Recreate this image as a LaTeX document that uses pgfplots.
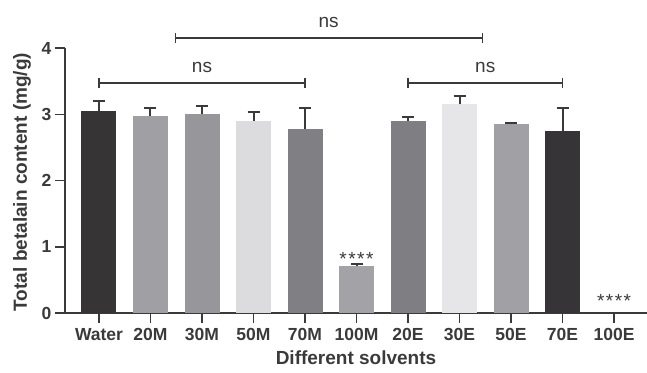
\documentclass[border=0pt]{standalone}
\usepackage{fontspec}
\setmainfont{Liberation Sans}
\usepackage{pgfplots}
\pgfplotsset{compat=1.18}
\definecolor{axc}{HTML}{3A3A3A}
\definecolor{c0}{HTML}{363435}
\definecolor{c1}{HTML}{A0A0A4}
\definecolor{c2}{HTML}{97979B}
\definecolor{c3}{HTML}{DCDCDE}
\definecolor{c4}{HTML}{808084}
\definecolor{c5}{HTML}{A3A3A7}
\definecolor{c6}{HTML}{7F7F83}
\definecolor{c7}{HTML}{E6E6E8}
\definecolor{c8}{HTML}{A1A1A5}
\definecolor{c9}{HTML}{363436}
\begin{document}
\begin{tikzpicture}[x=1pt,y=1pt]
\begin{axis}[
  at={(0,0)}, anchor=south west, scale only axis,
  width=582pt, height=265pt,
  xmin=-0.66, xmax=10.64, ymin=0, ymax=4,
  axis x line*=bottom, axis y line*=left,
  axis line style={axc, line width=1.5pt},
  ytick={0,1,2,3,4},
  xtick={0,...,10},
  xticklabels={Water,20M,30M,50M,70M,100M,20E,30E,50E,70E,100E},
  tick style={axc, line width=1.5pt},
  tick align=outside, major tick length=10pt,
  tick label style={font=\fontsize{17.5}{17.5}\selectfont\bfseries, text=axc},
  xticklabel style={yshift=-2pt},
  /pgf/number format/assume math mode=true,
  xlabel={Different solvents},
  ylabel={Total betalain content (mg/g)},
  label style={font=\fontsize{19}{19}\selectfont\bfseries, text=axc},
  xlabel style={at={(rel axis cs:0.5,0)}, anchor=center, yshift=-45pt},
  ylabel style={at={(rel axis cs:0,0.494)}, anchor=center, yshift=43pt},
  ybar, bar width=35pt, bar shift=0pt,
  clip=false,
  error bars/y dir=plus, error bars/y explicit,
  error bars/error bar style={axc, line width=2pt},
  error bars/error mark options={axc, line width=2pt, mark size=6pt, rotate=90},
]
\addplot[fill=c0, draw=none] coordinates {(0,3.05) +- (0,0.15)};
\addplot[fill=c1, draw=none] coordinates {(1,2.97) +- (0,0.13)};
\addplot[fill=c2, draw=none] coordinates {(2,3.00) +- (0,0.12)};
\addplot[fill=c3, draw=none] coordinates {(3,2.90) +- (0,0.14)};
\addplot[fill=c4, draw=none] coordinates {(4,2.78) +- (0,0.32)};
\addplot[fill=c5, draw=none] coordinates {(5,0.71) +- (0,0.03)};
\addplot[fill=c6, draw=none] coordinates {(6,2.90) +- (0,0.06)};
\addplot[fill=c7, draw=none] coordinates {(7,3.15) +- (0,0.13)};
\addplot[fill=c8, draw=none] coordinates {(8,2.85) +- (0,0.02)};
\addplot[fill=c9, draw=none] coordinates {(9,2.75) +- (0,0.35)};

% significance brackets
\draw[axc, line width=1.3pt] (axis cs:0,3.47) -- (axis cs:4,3.47);
\draw[axc, line width=1.3pt] (axis cs:0,3.40) -- (axis cs:0,3.54);
\draw[axc, line width=1.3pt] (axis cs:4,3.40) -- (axis cs:4,3.54);
\node[anchor=base, font=\fontsize{19}{19}\selectfont, text=axc, inner sep=0pt] at (axis cs:2,3.47) [yshift=11pt] {ns};

\draw[axc, line width=1.3pt] (axis cs:6,3.47) -- (axis cs:9,3.47);
\draw[axc, line width=1.3pt] (axis cs:6,3.40) -- (axis cs:6,3.54);
\draw[axc, line width=1.3pt] (axis cs:9,3.40) -- (axis cs:9,3.54);
\node[anchor=base, font=\fontsize{19}{19}\selectfont, text=axc, inner sep=0pt] at (axis cs:7.5,3.47) [yshift=11pt] {ns};

\draw[axc, line width=1.3pt] (axis cs:1.48,4.15) -- (axis cs:7.44,4.15);
\draw[axc, line width=1.3pt] (axis cs:1.48,4.08) -- (axis cs:1.48,4.22);
\draw[axc, line width=1.3pt] (axis cs:7.44,4.08) -- (axis cs:7.44,4.22);
\node[anchor=base, font=\fontsize{19}{19}\selectfont, text=axc, inner sep=0pt] at (axis cs:4.46,4.15) [yshift=11pt] {ns};

\node[anchor=base, font=\fontsize{19}{19}\selectfont, text=axc, inner sep=0pt] at (axis cs:5,0.72) {*\kern1.5pt*\kern1.5pt*\kern1.5pt*};
\node[anchor=base, font=\fontsize{19}{19}\selectfont, text=axc, inner sep=0pt] at (axis cs:10,0.09) {*\kern1.5pt*\kern1.5pt*\kern1.5pt*};
\end{axis}
\pgfresetboundingbox
\useasboundingbox (-65,-59) rectangle (582,313);
\end{tikzpicture}
\end{document}
